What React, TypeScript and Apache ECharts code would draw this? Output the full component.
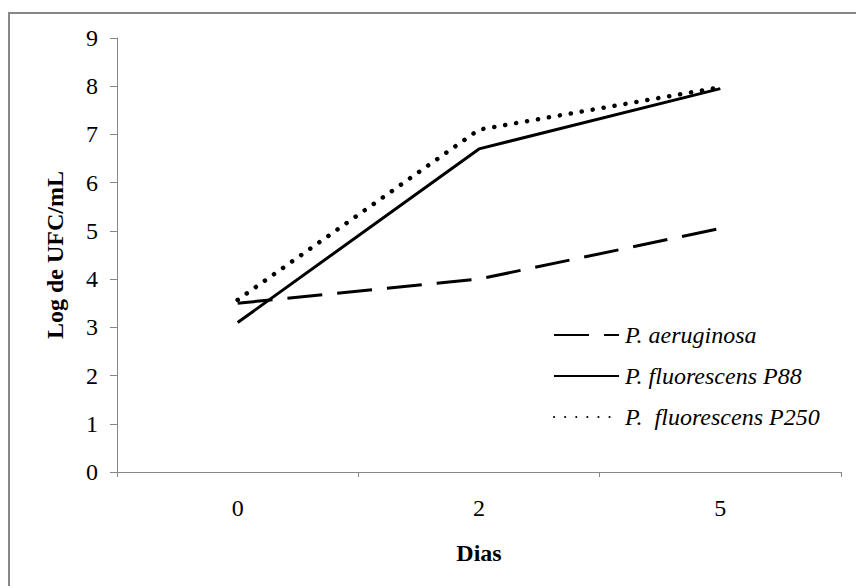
import React, { useEffect, useRef } from "react";
import * as echarts from "echarts";

const days = ["0", "2", "5"];
const aeruginosa = [3.5, 4.0, 5.05];
const fluorescensP88 = [3.1, 6.7, 7.95];
const fluorescensP250 = [3.57, 7.1, 7.98];
const seriesNames = ["P. aeruginosa", "P. fluorescens P88", "P.  fluorescens P250"];

const FONT = "Liberation Serif";

export default function App() {
  const ref = useRef<HTMLDivElement>(null);
  useEffect(() => {
    if (!ref.current) return;
    const chart = echarts.init(ref.current, undefined, { renderer: "svg" });
    chart.setOption({
      animation: false,
      backgroundColor: "#ffffff",
      textStyle: { fontFamily: FONT },
      graphic: [
        {
          type: "rect",
          shape: { x: 9, y: 13, width: 900, height: 700 },
          style: { fill: "none", stroke: "#878787", lineWidth: 2 },
          silent: true,
        },
      ],
      grid: { left: 117, top: 38, right: 15, bottom: 114, containLabel: false },
      legend: {
        orient: "vertical",
        left: 548,
        top: 318,
        itemWidth: 65,
        itemHeight: 24,
        itemGap: 17,
        data: seriesNames,
        itemStyle: { opacity: 0, color: "transparent", borderWidth: 0 },
        textStyle: { fontFamily: FONT, fontStyle: "italic", fontSize: 24, color: "#000", padding: [0, 0, 0, 1] },
      },
      xAxis: {
        type: "category",
        data: days,
        boundaryGap: true,
        name: "Dias",
        nameLocation: "middle",
        nameGap: 69,
        nameTextStyle: { fontFamily: FONT, fontWeight: "bold", fontSize: 24, color: "#000" },
        axisLine: { lineStyle: { color: "#878787", width: 1 } },
        axisTick: { show: true, length: 5, lineStyle: { color: "#878787" } },
        axisLabel: { fontFamily: FONT, fontSize: 24, color: "#000", margin: 24 },
        splitLine: { show: false },
      },
      yAxis: {
        type: "value",
        min: 0,
        max: 9,
        interval: 1,
        name: "Log de UFC/mL",
        nameLocation: "middle",
        nameGap: 50,
        nameTextStyle: { fontFamily: FONT, fontWeight: "bold", fontSize: 24, color: "#000" },
        axisLine: { show: true, lineStyle: { color: "#878787", width: 1 } },
        axisTick: { show: true, length: 7, lineStyle: { color: "#878787" } },
        axisLabel: { fontFamily: FONT, fontSize: 24, color: "#000", margin: 19 },
        splitLine: { show: false },
      },
      series: [
        {
          name: seriesNames[0],
          type: "line",
          data: aeruginosa,
          symbol: "none",
          lineStyle: { color: "#000", width: 3, type: [35, 15] },
          itemStyle: { color: "#000" },
        },
        {
          name: seriesNames[1],
          type: "line",
          data: fluorescensP88,
          symbol: "none",
          lineStyle: { color: "#000", width: 3, type: "solid" },
          itemStyle: { color: "#000" },
        },
        {
          name: seriesNames[2],
          type: "line",
          data: fluorescensP250,
          symbol: "none",
          lineStyle: { color: "#000", width: 4.5, type: [0.1, 11], cap: "round" },
          itemStyle: { color: "#000" },
        },
      ],
    });
    return () => chart.dispose();
  }, []);
  return (
    <div
      ref={ref}
      style={{ position: "fixed", left: 0, top: 0, width: 856, height: 586, background: "#fff" }}
    />
  );
}
